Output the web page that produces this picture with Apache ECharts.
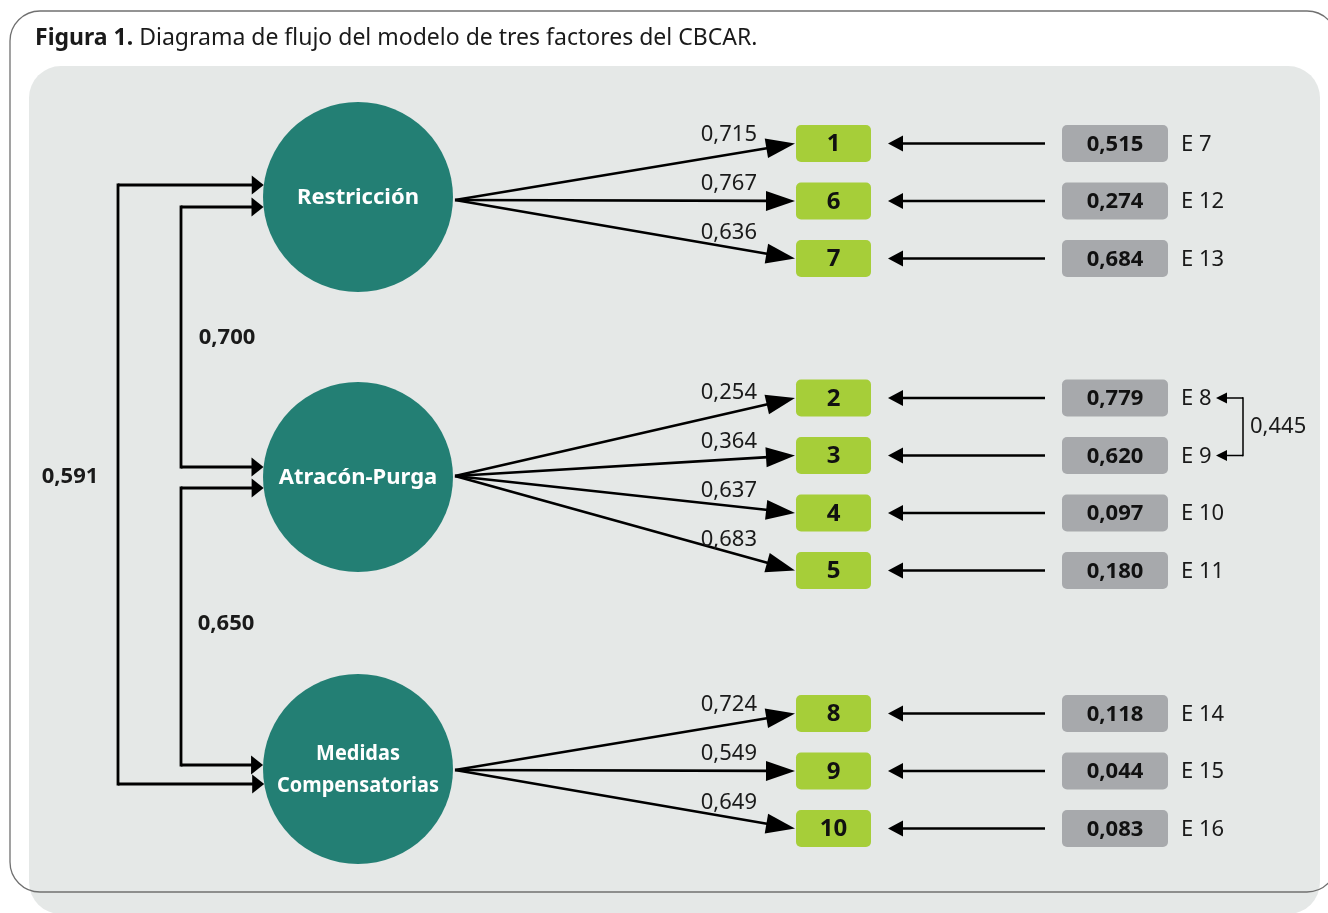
<!DOCTYPE html>
<html><head><meta charset="utf-8">
<script src="https://cdn.jsdelivr.net/npm/echarts@6/dist/echarts.min.js"></script>
<style>html,body{margin:0;padding:0;background:#fff}#c{width:1328px;height:913px}</style>
</head><body><div id="c"></div>
<script>
// ---------------- data ----------------
const factors = ['Restricción', 'Atracón-Purga', 'Medidas\nCompensatorias'];
const itemGroups = [[1, 6, 7], [2, 3, 4, 5], [8, 9, 10]];
const loadings = [[0.715, 0.767, 0.636], [0.254, 0.364, 0.637, 0.683], [0.724, 0.549, 0.649]];
const errorVariances = [[0.515, 0.274, 0.684], [0.779, 0.620, 0.097, 0.180], [0.118, 0.044, 0.083]];
const errorLabels = [['E 7', 'E 12', 'E 13'], ['E 8', 'E 9', 'E 10', 'E 11'], ['E 14', 'E 15', 'E 16']];
const factorCorrelations = [[0, 1, 0.700], [1, 2, 0.650], [0, 2, 0.591]];
const errorCovariances = [['E 8', 'E 9', 0.445]];
const titleBold = 'Figura 1.';
const titleText = 'Diagrama de flujo del modelo de tres factores del CBCAR.';

// ---------------- layout (diagram units = px on hidden axes) ----------------
const W = 1328, H = 913;
const FONT = '"Noto Sans", sans-serif';
const factorX = 358, factorR = 95;
const factorY = [197, 477, 769];
const loadStartDy = [3, -1, 1];
const groupTop = [143.5, 398, 713.5];
const rowStep = 57.5;
const itemX = 833.5, itemW = 75, itemH = 37;
const errBoxX = 1115, errBoxW = 106;
const eLabelX = 1181;
const loadStartX = 455, loadTipX = 795;
const errLineStartX = 1045, errTipX = 888;
const factorLabelMaxW = 162;
// bracket layout per correlation: [bracket x, dy on first factor, dy on second factor, label x, label y]
const corrLayout = [[181, 10, -10, 227, 338], [181, 11, -4, 226, 624], [118, -12, 15, 70, 477]];
const covX = 1243, covTipX = 1216, covLabelX = 1250;

const fmt = v => v.toFixed(3).replace('.', ',');

// flatten items
const items = [];
itemGroups.forEach((g, gi) => g.forEach((num, i) => {
  items.push({ g: gi, num, y: groupTop[gi] + i * rowStep, loading: loadings[gi][i],
    errVar: errorVariances[gi][i], eLabel: errorLabels[gi][i] });
}));

const measureCtx = document.createElement('canvas').getContext('2d');
function textWidth(str, font) {
  measureCtx.font = font;
  return Math.max(...str.split('\n').map(s => measureCtx.measureText(s).width));
}

function arrowEls(p1, p2, headLen, headHalf, lw, color) {
  const dx = p2[0] - p1[0], dy = p2[1] - p1[1];
  const len = Math.sqrt(dx * dx + dy * dy);
  const ux = dx / len, uy = dy / len;
  const bx = p2[0] - ux * headLen, by = p2[1] - uy * headLen;
  const nx = -uy, ny = ux;
  return [
    { type: 'line', shape: { x1: p1[0], y1: p1[1], x2: bx + ux * 2, y2: by + uy * 2 },
      style: { stroke: color, lineWidth: lw } },
    { type: 'polygon', shape: { points: [[p2[0], p2[1]], [bx + nx * headHalf, by + ny * headHalf], [bx - nx * headHalf, by - ny * headHalf]] },
      style: { fill: color } }
  ];
}

const chart = echarts.init(document.getElementById('c'), null, { renderer: 'canvas' });

const option = {
  animation: false,
  backgroundColor: '#ffffff',
  title: {
    text: '{b|' + titleBold + '} ' + titleText,
    left: 35, top: 27, padding: 0,
    textStyle: { fontFamily: FONT, fontSize: 23, fontWeight: 'normal', color: '#1a1a1a',
      rich: { b: { fontFamily: FONT, fontSize: 23, fontWeight: 'bold', color: '#1a1a1a' } } }
  },
  graphic: [
    { type: 'rect', z: -10, shape: { x: 29, y: 66, width: 1291, height: 848, r: 32 }, style: { fill: '#e5e8e7' } },
    { type: 'rect', z: -9, shape: { x: 10, y: 11, width: 1327, height: 881, r: 30 }, style: { fill: null, stroke: '#707070', lineWidth: 1.3 } }
  ],
  grid: { left: 0, right: 0, top: 0, bottom: 0, containLabel: false },
  xAxis: { type: 'value', min: 0, max: W, show: false },
  yAxis: { type: 'value', min: 0, max: H, inverse: true, show: false },
  series: [
    // loading arrows
    {
      type: 'custom', coordinateSystem: 'cartesian2d',
      data: items.map(it => [loadStartX, factorY[it.g] + loadStartDy[it.g], loadTipX, it.y]),
      renderItem: (params, api) => {
        const it = items[params.dataIndex];
        const p1 = api.coord([api.value(0), api.value(1)]);
        const p2 = api.coord([api.value(2), api.value(3)]);
        const els = arrowEls(p1, p2, 29, 10, 2.6, '#000');
        const ax = p2[0] - 50;
        const t = (ax - p1[0]) / (p2[0] - p1[0]);
        const ay = p1[1] + t * (p2[1] - p1[1]);
        els.push({ type: 'text', style: { text: fmt(it.loading), x: p2[0] - 38, y: ay - 17, align: 'right', verticalAlign: 'middle',
          font: '22px ' + FONT, fill: '#1a1a1a' } });
        return { type: 'group', children: els };
      }
    },
    // factor circles
    {
      type: 'custom', coordinateSystem: 'cartesian2d',
      data: factors.map((f, i) => [factorX, factorY[i]]),
      renderItem: (params, api) => {
        const c = api.coord([api.value(0), api.value(1)]);
        const r = api.size([factorR, 0])[0];
        const font = 'bold 22px ' + FONT;
        const label = factors[params.dataIndex];
        const sx = Math.min(1, factorLabelMaxW / textWidth(label, font));
        return { type: 'group', children: [
          { type: 'circle', shape: { cx: c[0], cy: c[1], r }, style: { fill: '#237f74' } },
          { type: 'text', x: c[0], y: c[1] + 1, scaleX: sx,
            style: { text: label, x: 0, y: 0, align: 'center', verticalAlign: 'middle',
            font, fill: '#ffffff', lineHeight: 32 } }
        ] };
      }
    },
    // item boxes
    {
      type: 'custom', coordinateSystem: 'cartesian2d',
      data: items.map(it => [itemX, it.y]),
      renderItem: (params, api) => {
        const c = api.coord([api.value(0), api.value(1)]);
        const s = api.size([itemW, itemH]);
        return { type: 'group', children: [
          { type: 'rect', shape: { x: c[0] - s[0] / 2, y: c[1] - s[1] / 2, width: s[0], height: s[1], r: 5 }, style: { fill: '#a6ce39' } },
          { type: 'text', style: { text: String(items[params.dataIndex].num), x: c[0], y: c[1] + 1, align: 'center', verticalAlign: 'middle',
            font: 'bold 24px ' + FONT, fill: '#111' } }
        ] };
      }
    },
    // error arrows
    {
      type: 'custom', coordinateSystem: 'cartesian2d',
      data: items.map(it => [errLineStartX, it.y, errTipX, it.y]),
      renderItem: (params, api) => {
        const p1 = api.coord([api.value(0), api.value(1)]);
        const p2 = api.coord([api.value(2), api.value(3)]);
        return { type: 'group', children: arrowEls(p1, p2, 15, 8, 2.4, '#000') };
      }
    },
    // error boxes + labels
    {
      type: 'custom', coordinateSystem: 'cartesian2d',
      data: items.map(it => [errBoxX, it.y]),
      renderItem: (params, api) => {
        const it = items[params.dataIndex];
        const c = api.coord([api.value(0), api.value(1)]);
        const s = api.size([errBoxW, itemH]);
        const lx = api.coord([eLabelX, 0])[0];
        return { type: 'group', children: [
          { type: 'rect', shape: { x: c[0] - s[0] / 2, y: c[1] - s[1] / 2, width: s[0], height: s[1], r: 5 }, style: { fill: '#a7a9ac' } },
          { type: 'text', style: { text: fmt(it.errVar), x: c[0], y: c[1] + 1, align: 'center', verticalAlign: 'middle',
            font: 'bold 22px ' + FONT, fill: '#111' } },
          { type: 'text', style: { text: it.eLabel, x: lx, y: c[1] + 1, align: 'left', verticalAlign: 'middle',
            font: '22px ' + FONT, fill: '#1a1a1a' } }
        ] };
      }
    },
    // factor correlations (brackets)
    {
      type: 'custom', coordinateSystem: 'cartesian2d',
      data: factorCorrelations.map((fc, i) => [corrLayout[i][0], factorY[fc[0]] + corrLayout[i][1], factorY[fc[1]] + corrLayout[i][2]]),
      renderItem: (params, api) => {
        const L = corrLayout[params.dataIndex];
        const fc = factorCorrelations[params.dataIndex];
        const bx = api.value(0), y1 = api.value(1), y2 = api.value(2);
        const tipX = (y, fi) => factorX - Math.sqrt(factorR * factorR - Math.pow(y - factorY[fi], 2));
        const a = api.coord([bx, y1]), b = api.coord([bx, y2]);
        const t1 = api.coord([tipX(y1, fc[0]), y1]), t2 = api.coord([tipX(y2, fc[1]), y2]);
        const lp = api.coord([L[3], L[4]]);
        const els = [
          { type: 'polyline', shape: { points: [[a[0] + 1.5, a[1]], [a[0], a[1]], [b[0], b[1]], [b[0] + 1.5, b[1]]] },
            style: { stroke: '#000', lineWidth: 2.8, fill: null, lineJoin: 'miter' } }
        ];
        els.push(...arrowEls(a, t1, 12, 9.5, 2.8, '#000'));
        els.push(...arrowEls(b, t2, 12, 9.5, 2.8, '#000'));
        els.push({ type: 'text', style: { text: fmt(fc[2]), x: lp[0], y: lp[1], align: 'center', verticalAlign: 'middle',
          font: 'bold 22px ' + FONT, fill: '#1a1a1a' } });
        return { type: 'group', children: els };
      }
    },
    // error covariance bracket
    {
      type: 'custom', coordinateSystem: 'cartesian2d',
      data: errorCovariances.map(ec => {
        const a = items.find(it => it.eLabel === ec[0]), b = items.find(it => it.eLabel === ec[1]);
        return [covX, a.y, b.y];
      }),
      renderItem: (params, api) => {
        const ec = errorCovariances[params.dataIndex];
        const a = api.coord([api.value(0), api.value(1)]), b = api.coord([api.value(0), api.value(2)]);
        const ta = api.coord([covTipX, api.value(1)]), tb = api.coord([covTipX, api.value(2)]);
        const lp = api.coord([covLabelX, (api.value(1) + api.value(2)) / 2]);
        const els = [
          { type: 'polyline', shape: { points: [[a[0] - 1, a[1]], [a[0], a[1]], [b[0], b[1]], [b[0] - 1, b[1]]] },
            style: { stroke: '#000', lineWidth: 1.5, fill: null } }
        ];
        els.push(...arrowEls(a, ta, 11, 5.5, 1.5, '#000'));
        els.push(...arrowEls(b, tb, 11, 5.5, 1.5, '#000'));
        els.push({ type: 'text', style: { text: fmt(ec[2]), x: lp[0], y: lp[1], align: 'left', verticalAlign: 'middle',
          font: '22px ' + FONT, fill: '#1a1a1a' } });
        return { type: 'group', children: els };
      }
    }
  ]
};
chart.setOption(option);
</script></body></html>
